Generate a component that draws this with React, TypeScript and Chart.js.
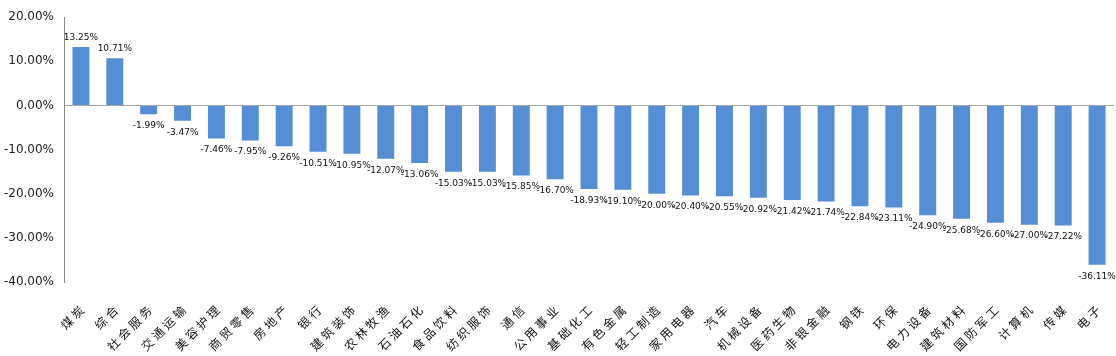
import React, { useEffect, useRef } from "react";
import { Chart, registerables } from "chart.js";

Chart.register(...registerables);

const categories = ["煤炭", "综合", "社会服务", "交通运输", "美容护理", "商贸零售", "房地产", "银行", "建筑装饰", "农林牧渔", "石油石化", "食品饮料", "纺织服饰", "通信", "公用事业", "基础化工", "有色金属", "轻工制造", "家用电器", "汽车", "机械设备", "医药生物", "非银金融", "钢铁", "环保", "电力设备", "建筑材料", "国防军工", "计算机", "传媒", "电子"];
const values = [13.25, 10.71, -1.99, -3.47, -7.46, -7.95, -9.26, -10.51, -10.95, -12.07, -13.06, -15.03, -15.03, -15.85, -16.70, -18.93, -19.10, -20.00, -20.40, -20.55, -20.92, -21.42, -21.74, -22.84, -23.11, -24.90, -25.68, -26.60, -27.00, -27.22, -36.11];
const yMin = -40;
const yMax = 20;
const yStep = 10;

const labelPlugin = {
  id: "barLabels",
  afterDatasetsDraw(chart: any) {
    const ctx = chart.ctx;
    const meta = chart.getDatasetMeta(0);
    ctx.save();
    ctx.font = "9px 'DejaVu Sans', sans-serif";
    ctx.fillStyle = "#111";
    ctx.textAlign = "center";
    meta.data.forEach((bar: any, i: number) => {
      const v = values[i];
      const txt = v.toFixed(2) + "%";
      if (v >= 0) {
        ctx.textBaseline = "bottom";
        ctx.fillText(txt, bar.x, bar.y - 5);
      } else {
        ctx.textBaseline = "top";
        ctx.fillText(txt, bar.x, bar.y + 7);
      }
    });
    ctx.restore();
  },
  afterDraw(chart: any) {
    const ctx = chart.ctx;
    const xs = chart.scales.x;
    const bottom = chart.chartArea.bottom;
    ctx.save();
    ctx.font = "12px 'Noto Sans CJK SC', sans-serif";
    ctx.fillStyle = "#111";
    ctx.textAlign = "right";
    ctx.textBaseline = "middle";
    try {
      (ctx as any).letterSpacing = "3px";
    } catch (e) {}
    categories.forEach((c, i) => {
      const x = xs.getPixelForTick(i);
      ctx.save();
      ctx.translate(x + 3, bottom + 24);
      ctx.rotate(-Math.PI / 4);
      ctx.fillText(c, 0, 0);
      ctx.restore();
    });
    ctx.restore();
  },
};

export default function App() {
  const ref = useRef<HTMLCanvasElement>(null);
  useEffect(() => {
    document.body.style.margin = "0";
    const chart = new Chart(ref.current!, {
      type: "bar",
      data: {
        labels: categories,
        datasets: [
          {
            data: values,
            backgroundColor: "#558ED5",
            barPercentage: 0.5,
            categoryPercentage: 1,
          },
        ],
      },
      options: {
        animation: false,
        responsive: false,
        layout: { autoPadding: false, padding: { top: 14, right: 2, left: 0, bottom: 0 } },
        plugins: { legend: { display: false }, tooltip: { enabled: false } },
        scales: {
          x: {
            grid: { display: false, drawTicks: false },
            border: { display: false },
            ticks: { display: false },
            afterFit(scale: any) {
              scale.height = 74;
            },
          },
          y: {
            min: yMin,
            max: yMax,
            ticks: {
              stepSize: yStep,
              padding: 10,
              color: "#222",
              font: { size: 12, family: "'DejaVu Sans', sans-serif" },
              callback: (v: any) => Number(v).toFixed(2) + "%",
            },
            grid: {
              drawTicks: false,
              color: (c: any) => (c.tick && c.tick.value === 0 ? "#a6a6a6" : "rgba(0,0,0,0)"),
            },
            border: { display: true, color: "#888" },
            afterFit(scale: any) {
              scale.width = 64;
            },
          },
        },
      },
      plugins: [labelPlugin],
    });
    return () => chart.destroy();
  }, []);
  return (
    <div style={{ width: 1116, height: 356 }}>
      <canvas ref={ref} width={1116} height={356} style={{ display: "block" }} />
    </div>
  );
}
